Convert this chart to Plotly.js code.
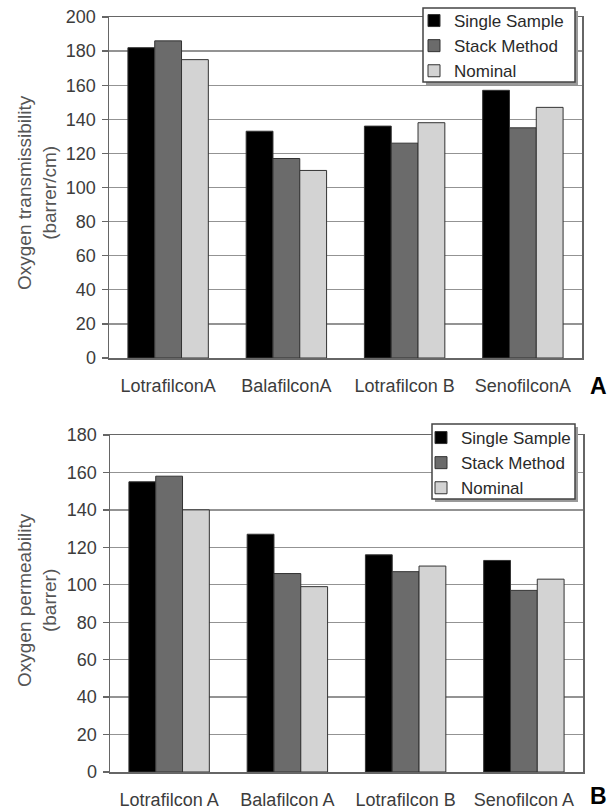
<!DOCTYPE html>
<html>
<head>
<meta charset="utf-8">
<script src="https://cdn.plot.ly/plotly-3.0.1.min.js"></script>
<style>html,body{margin:0;padding:0;background:#fff;}#chart{width:613px;height:811px;}</style>
</head>
<body>
<div id="chart"></div>
<script>
// ---- data ----
const categories = ["Lotrafilcon A", "Balafilcon A", "Lotrafilcon B", "Senofilcon A"];
const tickLabelsTop = ["LotrafilconA", "BalafilconA", "Lotrafilcon B", "SenofilconA"];
const tickLabelsBottom = ["Lotrafilcon A", "Balafilcon A", "Lotrafilcon B", "Senofilcon A"];
const seriesNames = ["Single Sample", "Stack Method", "Nominal"];
// Panel A: oxygen transmissibility (barrer/cm)
const transSingleSample = [182, 133, 136, 157];
const transStack = [186, 117, 126, 135];
const transNominal = [175, 110, 138, 147];
// Panel B: oxygen permeability (barrer)
const permSingle = [155, 127, 116, 113];
const permStack = [158, 106, 107, 97];
const permNominal = [140, 99, 110, 103];
const yTicksTop = [0, 20, 40, 60, 80, 100, 120, 140, 160, 180, 200];
const yTicksBottom = [0, 20, 40, 60, 80, 100, 120, 140, 160, 180];

const colors = ["#000000", "#6b6b6b", "#d3d3d3"];
const W = 613, H = 811;
const fx = p => p / W;
const fy = p => 1 - p / H;
const fontFam = "Liberation Sans, Arial, sans-serif";

function mk(y, i, xa, ya, leg) {
  return {
    type: "bar", x: categories, y: y, name: seriesNames[i],
    xaxis: xa, yaxis: ya, legend: leg, showlegend: true,
    marker: {color: colors[i], line: {color: "#333", width: 1}},
    hoverinfo: "x+y+name"
  };
}

const data = [
  mk(transSingleSample, 0, "x", "y", "legend"),
  mk(transStack, 1, "x", "y", "legend"),
  mk(transNominal, 2, "x", "y", "legend"),
  mk(permSingle, 0, "x2", "y2", "legend2"),
  mk(permStack, 1, "x2", "y2", "legend2"),
  mk(permNominal, 2, "x2", "y2", "legend2")
];

const yCommon = {
  showgrid: true, gridcolor: "#939393", gridwidth: 1.4,
  showline: true, linecolor: "#666", linewidth: 1.5, mirror: true,
  ticks: "outside", ticklen: 6, tickcolor: "#666", tickwidth: 1.3,
  ticklabelstandoff: 2,
  tickfont: {family: fontFam, size: 18, color: "#3c3c3c"},
  zeroline: false, fixedrange: true
};
const xCommon = {
  showline: true, linecolor: "#666", linewidth: 1.5, mirror: true,
  ticks: "", ticklen: 0, ticklabelstandoff: 11,
  tickfont: {family: fontFam, size: 18, color: "#3c3c3c"},
  showgrid: false, fixedrange: true, tickmode: "array", tickvals: categories
};

const legCommon = {
  bgcolor: "rgba(0,0,0,0)", borderwidth: 0,
  font: {family: fontFam, size: 17, color: "#2a2a2a"},
  xanchor: "left", yanchor: "top", tracegroupgap: 0, itemclick: false, itemdoubleclick: false
};

function box(x0, y0, x1, y1) {
  return [
    {type: "rect", xref: "paper", yref: "paper", layer: "above",
     x0: fx(x0 + 3), x1: fx(x1 + 3), y0: fy(y0 + 3), y1: fy(y1 + 3),
     fillcolor: "#9a9a9a", line: {width: 0}},
    {type: "rect", xref: "paper", yref: "paper", layer: "above",
     x0: fx(x0), x1: fx(x1), y0: fy(y0), y1: fy(y1),
     fillcolor: "#ffffff", line: {color: "#444", width: 1.5}}
  ];
}

const layout = {
  width: W, height: H,
  margin: {l: 0, r: 0, t: 0, b: 0},
  paper_bgcolor: "#fff", plot_bgcolor: "#fff",
  barmode: "group", bargap: 0.32, bargroupgap: 0,
  xaxis: Object.assign({}, xCommon, {domain: [fx(109), fx(582)], anchor: "y", ticktext: tickLabelsTop}),
  yaxis: Object.assign({}, yCommon, {domain: [fy(358), fy(17)], anchor: "x", range: [0, 200], tickvals: yTicksTop, tickmode: "array"}),
  xaxis2: Object.assign({}, xCommon, {domain: [fx(110), fx(583)], anchor: "y2", ticktext: tickLabelsBottom}),
  yaxis2: Object.assign({}, yCommon, {domain: [fy(772), fy(435)], anchor: "x2", range: [0, 180], tickvals: yTicksBottom, tickmode: "array"}),
  legend: Object.assign({}, legCommon, {x: fx(414), y: fy(3)}),
  legend2: Object.assign({}, legCommon, {x: fx(421), y: fy(420)}),
  shapes: box(423, 8, 575, 82).concat(box(432, 424, 575, 499)),
  annotations: [
    {text: "Oxygen transmissibility<br>(barrer/cm)", xref: "paper", yref: "paper",
     x: fx(37), y: fy(193), textangle: -90, showarrow: false, xanchor: "center", yanchor: "middle",
     font: {family: fontFam, size: 19, color: "#555"}},
    {text: "Oxygen permeability<br>(barrer)", xref: "paper", yref: "paper",
     x: fx(37), y: fy(600), textangle: -90, showarrow: false, xanchor: "center", yanchor: "middle",
     font: {family: fontFam, size: 19, color: "#555"}},
    {text: "<b>A</b>", xref: "paper", yref: "paper", x: fx(598), y: fy(386), showarrow: false,
     xanchor: "center", yanchor: "middle", font: {family: fontFam, size: 23, color: "#000"}},
    {text: "<b>B</b>", xref: "paper", yref: "paper", x: fx(598), y: fy(796), showarrow: false,
     xanchor: "center", yanchor: "middle", font: {family: fontFam, size: 23, color: "#000"}}
  ]
};

Plotly.newPlot("chart", data, layout, {displayModeBar: false, staticPlot: true});
</script>
</body>
</html>
